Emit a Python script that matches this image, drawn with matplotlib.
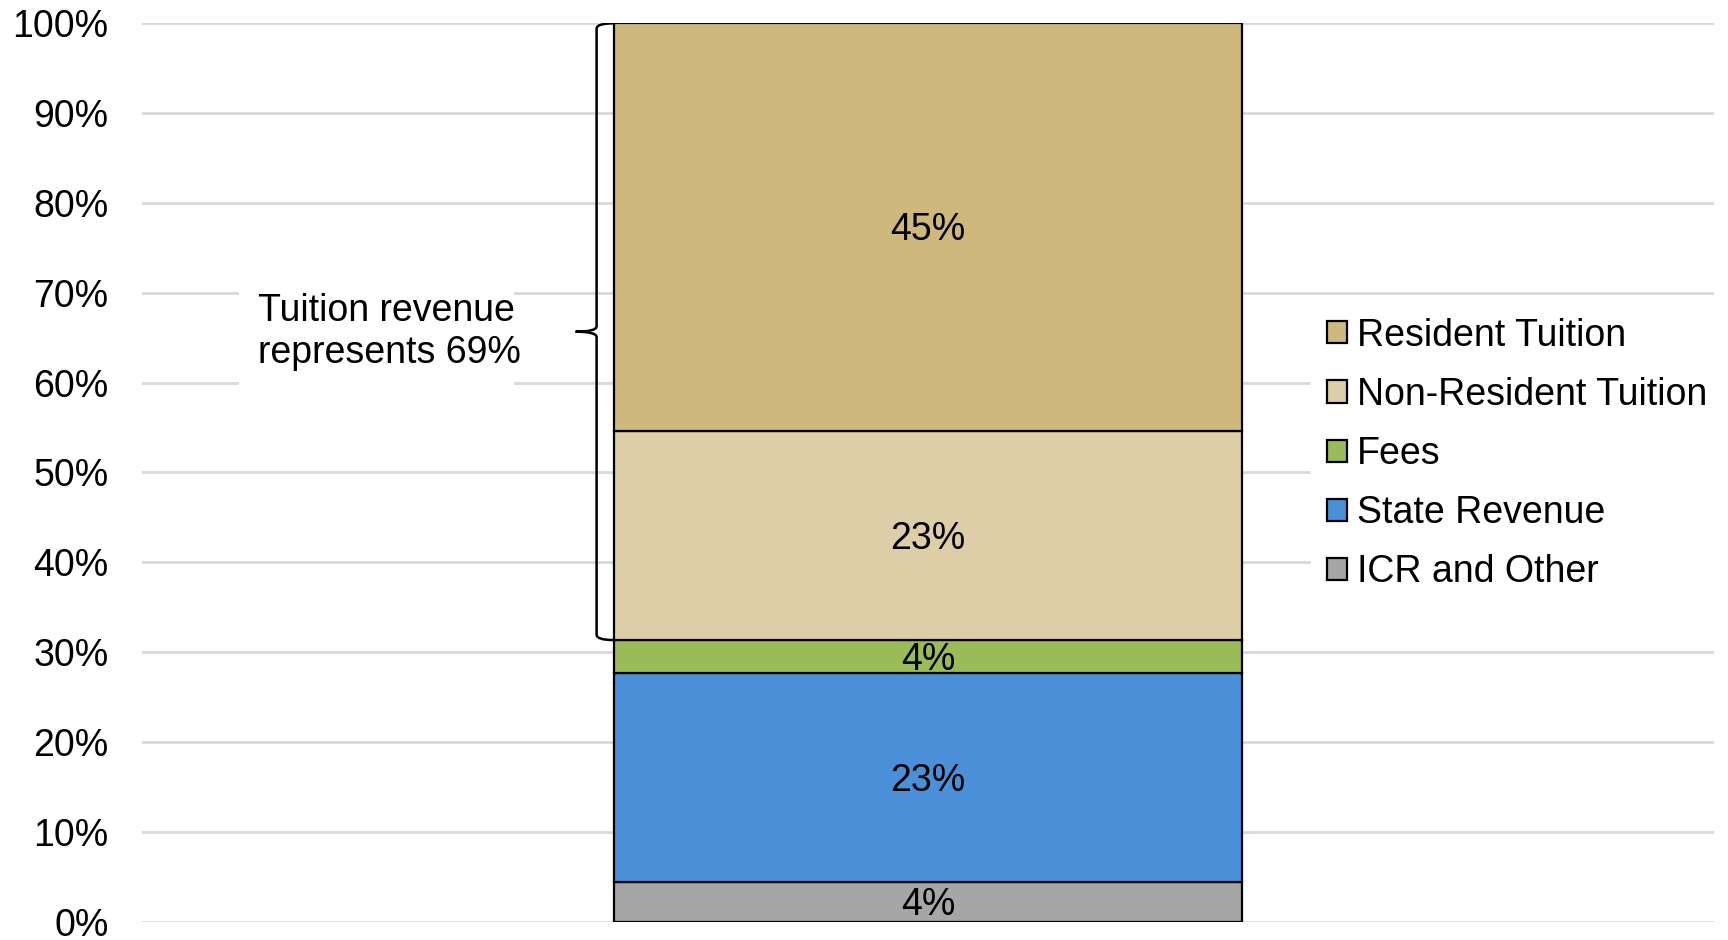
import numpy as np
import matplotlib
matplotlib.use("Agg")
import matplotlib.pyplot as plt
from matplotlib.path import Path
from matplotlib.patches import PathPatch, Rectangle

plt.rcParams['font.family'] = ['Liberation Sans', 'DejaVu Sans']

#-----------------------------------------------------------------------------
# revenue shares, bottom to top (percent)
categories = ['ICR and Other', 'State Revenue', 'Fees',
              'Non-Resident Tuition', 'Resident Tuition']
shares     = [4.45, 23.26, 3.64, 23.30, 45.35]
labels     = ['4%', '23%', '4%', '23%', '45%']
colors     = ['#A6A6A6', '#4A90D9', '#9BBB59', '#DDCEA8', '#CEB87C']

tuition_cats = ['Non-Resident Tuition', 'Resident Tuition']
note_text    = 'Tuition revenue\nrepresents 69%'

yticks      = np.arange(0, 101, 10)
ytick_names = ['%d%%' % v for v in yticks]

_FS = 27
_PX = 628.8   # pixels per x data unit
#-----------------------------------------------------------------------------
fig = plt.figure(figsize=(17.28, 9.4), dpi=100)
ax  = fig.add_axes([142/1728., 1-921.7/940., (1714-142)/1728., (921.7-23.3)/940.])

bottom = 0.0
for cat, val, lab, col in zip(categories, shares, labels, colors):
    ax.bar(0, val, width=1.0, bottom=bottom, color=col,
           edgecolor='black', linewidth=1.6, label=cat, zorder=3)
    ax.annotate(lab, (0, bottom + val/2.0), xytext=(0, -2.5),
                textcoords='offset points', ha='center', va='center',
                fontsize=_FS, zorder=4)
    bottom += val

ax.set_xlim(-1.25, 1.25)
ax.set_ylim(0, 100)
ax.set_yticks(yticks)
ax.set_yticklabels(ytick_names, fontsize=_FS)
ax.tick_params(axis='y', length=0, pad=24)
ax.set_xticks([])
for s in ax.spines.values():
    s.set_visible(False)
ax.yaxis.grid(True, color='#D9D9D9', linewidth=2.0)
ax.set_axisbelow(True)

#-----------------------------------------------------------------------------
# brace for tuition share
idx  = [categories.index(c) for c in tuition_cats]
cum  = np.cumsum([0] + shares)
bot  = cum[min(idx)]
top  = cum[max(idx) + 1]
mid  = (bot + top) / 2.0
xe   = -0.5
xb   = -0.5 - 17/_PX
xt   = -0.5 - 38/_PX
r    = 0.6

verts = [(xe, top), (xb, top), (xb, top - r),
         (xb, mid + r), (xb, mid), (xt, mid),
         (xb, mid), (xb, mid - r),
         (xb, bot + r), (xb, bot), (xe, bot)]
codes = [Path.MOVETO, Path.CURVE3, Path.CURVE3,
         Path.LINETO, Path.CURVE3, Path.CURVE3,
         Path.CURVE3, Path.CURVE3,
         Path.LINETO, Path.CURVE3, Path.CURVE3]
ax.add_patch(PathPatch(Path(verts, codes), facecolor='none',
                       edgecolor='black', linewidth=1.8, zorder=5))

# white box behind the note hides the gridlines
x0 = -1.25 + (239-142)/_PX
x1 = -1.25 + (514-142)/_PX
ax.add_patch(Rectangle((x0, mid - 8), x1 - x0, 16, facecolor='white',
                       edgecolor='none', zorder=1))
ax.text(-1.25 + (258-142)/_PX, mid, note_text, ha='left', va='center',
        fontsize=_FS, linespacing=1.22, zorder=4)

#-----------------------------------------------------------------------------
h, l = ax.get_legend_handles_labels()
leg = fig.legend(h[::-1], l[::-1], loc='center left',
                 bbox_to_anchor=(1311/1728., 1-454/940.),
                 fontsize=_FS, frameon=True, fancybox=False,
                 handlelength=0.53, handleheight=0.53, handletextpad=0.28,
                 labelspacing=0.62, borderpad=0.42, borderaxespad=0)
leg.get_frame().set_facecolor('white')
leg.get_frame().set_edgecolor('white')
leg.get_frame().set_alpha(1.0)
for p in leg.get_patches():
    p.set_linewidth(1.6)

fig.savefig('out.png', dpi=100)
